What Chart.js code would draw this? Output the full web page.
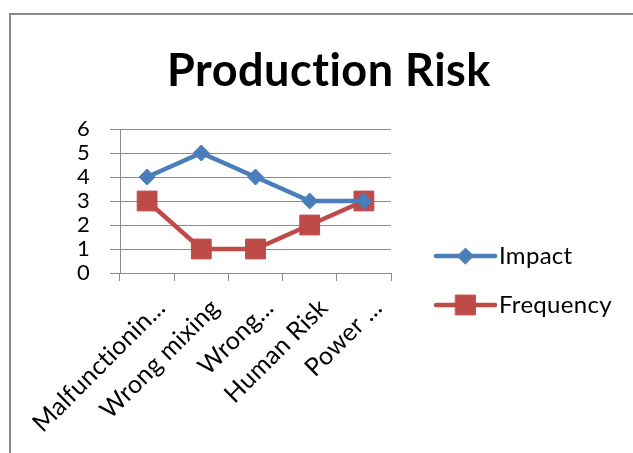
<!DOCTYPE html>
<html>
<head>
<meta charset="utf-8">
<script src="https://cdn.jsdelivr.net/npm/chart.js@4.4.1/dist/chart.umd.min.js"></script>
<style>
  html, body { margin: 0; padding: 0; background: #fff; }
  body { width: 633px; height: 453px; position: relative; overflow: hidden; }
  .frame { position: absolute; left: 9px; top: 13px; width: 700px; height: 500px;
           border-left: 2px solid #8a8a8a; border-top: 2px solid #8a8a8a; }
  canvas { position: absolute; left: 0; top: 0; }
</style>
</head>
<body>
<div class="frame"></div>
<canvas id="chart" width="633" height="453"></canvas>
<script>
// données
const categories = ['Malfunctionin...', 'Wrong mixing', 'Wrong...', 'Human Risk', 'Power ...'];
const impact     = [4, 5, 4, 3, 3];
const frequency  = [3, 1, 1, 2, 3];
const yTicks     = [0, 1, 2, 3, 4, 5, 6];
const titleText  = 'Production Risk';

const blue = '#4a7ebb';
const red  = '#be4b48';
const grid = '#8c8c8c';
const font = 'Lato, "Open Sans", sans-serif';

// pas de ligatures "ti" (Calibri n'en a pas)
const noLigPlugin = {
  id: 'noLig',
  beforeDraw(chart) { chart.ctx.letterSpacing = '0.3px'; }
};

// titre centré sur toute la zone (pas seulement la zone du graphe)
const titlePlugin = {
  id: 'xlTitle',
  afterDraw(chart) {
    const ctx = chart.ctx;
    ctx.save();
    ctx.letterSpacing = '0.5px';
    ctx.fillStyle = '#000';
    ctx.font = 'bold 45px ' + font;
    ctx.textAlign = 'center';
    ctx.textBaseline = 'alphabetic';
    ctx.fillText(titleText, 329, 86);
    ctx.restore();
  }
};

// legende maison : trait + marqueur, comme Excel
const legendPlugin = {
  id: 'xlLegend',
  afterDraw(chart) {
    const ctx = chart.ctx;
    const x0 = 436, x1 = 495;
    const ys = [256, 305];
    chart.data.datasets.forEach((ds, i) => {
      const y = ys[i];
      ctx.save();
      ctx.strokeStyle = ds.borderColor;
      ctx.lineWidth = 4.5;
      ctx.lineCap = 'round';
      ctx.beginPath(); ctx.moveTo(x0, y); ctx.lineTo(x1, y); ctx.stroke();
      ctx.fillStyle = ds.borderColor;
      ctx.lineWidth = 1;
      Chart.helpers.drawPoint(ctx, {
        pointStyle: ds.pointStyle, radius: ds.pointRadius, borderWidth: 1
      }, (x0 + x1) / 2, y);
      ctx.restore();
      ctx.save();
      ctx.fillStyle = '#000';
      ctx.font = '24px ' + font;
      ctx.textBaseline = 'middle';
      ctx.fillText(ds.label, x1 + 4, y);
      ctx.restore();
    });
  }
};

new Chart(document.getElementById('chart'), {
  type: 'line',
  data: {
    labels: categories,
    datasets: [
      {
        label: 'Impact',
        data: impact,
        borderColor: blue,
        backgroundColor: blue,
        borderWidth: 4.5,
        pointStyle: 'rectRot',
        pointRadius: 8,
        pointBorderWidth: 1,
        tension: 0
      },
      {
        label: 'Frequency',
        data: frequency,
        borderColor: red,
        backgroundColor: red,
        borderWidth: 4.5,
        pointStyle: 'rect',
        pointRadius: 14,
        pointBorderWidth: 1,
        tension: 0
      }
    ]
  },
  options: {
    responsive: false,
    animation: false,
    layout: { padding: { left: 0, right: 242, top: 129, bottom: 0 } },
    plugins: {
      legend: { display: false },
      tooltip: { enabled: false },
      title: { display: false }
    },
    scales: {
      x: {
        offset: true,
        afterFit: (s) => { s.height = 180; },
        grid: { drawOnChartArea: false, color: grid, tickLength: 8, offset: true },
        border: { color: grid, width: 1 },
        ticks: {
          color: '#000', autoSkip: false, maxRotation: 45, minRotation: 45,
          font: { family: font, size: 25 }, padding: 12, labelOffset: 14
        }
      },
      y: {
        min: 0, max: 6,
        afterFit: (s) => { s.width = 120; },
        afterBuildTicks: (s) => { s.ticks = yTicks.map(v => ({ value: v })); },
        grid: { color: grid, tickLength: 10 },
        border: { color: grid, width: 1 },
        ticks: { color: '#000', font: { family: font, size: 22 }, padding: 20,
                 stepSize: 1, autoSkip: false }
      }
    }
  },
  plugins: [noLigPlugin, titlePlugin, legendPlugin]
});
</script>
</body>
</html>
